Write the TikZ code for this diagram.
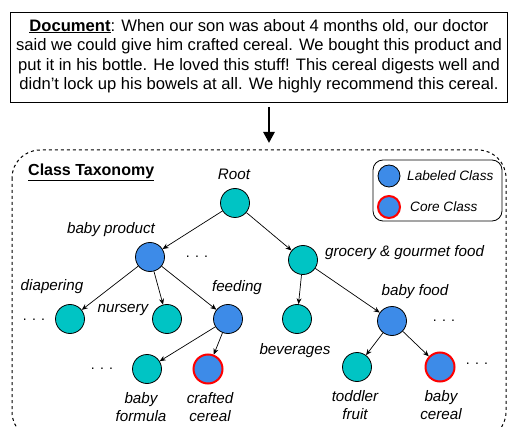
\documentclass[tikz,border=0pt]{standalone}
\usepackage{fontspec}
\setmainfont{Liberation Sans}
\usetikzlibrary{arrows.meta}
\definecolor{tealc}{RGB}{0,196,196}
\definecolor{bluec}{RGB}{61,139,232}
\begin{document}
\begin{tikzpicture}[x=1pt,y=-1pt,
  cls/.style={circle,draw=black,line width=0.8pt,minimum size=29pt,inner sep=0pt},
  tc/.style={cls,fill=tealc},
  bc/.style={cls,fill=bluec},
  cc/.style={cls,fill=bluec,draw=red,line width=2pt},
  lab/.style={font=\fontsize{15.2}{18}\selectfont\itshape,inner sep=0pt,align=center},
  leglab/.style={font=\fontsize{13.6}{16}\selectfont\itshape,inner sep=0pt},
  dots/.style={font=\fontsize{14}{16}\selectfont,inner sep=0pt},
  edge/.style={-{Stealth[length=6pt,width=5pt]},line width=0.7pt}]
\useasboundingbox (0,0) rectangle (508,427);
% document box
\draw[line width=0.9pt] (10,12) rectangle (507,102);
\node[inner sep=0pt,align=center,font=\fontsize{16.6}{19.5}\selectfont] (doc) at (259,56)
 {\underline{\textbf{Document}}: When our son was about 4 months old, our doctor\\
 said we could give him crafted cereal. We bought this product and\\
 put it in his bottle. He loved this stuff! This cereal digests well and\\
 didn't lock up his bowels at all. We highly recommend this cereal.};
\coordinate (a1) at (269,107);
\coordinate (a2) at (269,143);
\draw[-{Triangle[length=11pt,width=11pt]},line width=2.6pt] (a1) -- (a2);
% taxonomy frame
\draw[dashed,line width=1pt,rounded corners=28pt] (12,150) rectangle (506,440);
\node[anchor=west,inner sep=0pt,font=\fontsize{16}{18}\selectfont\bfseries] (title) at (28,172) {\underline{Class Taxonomy}};
% legend
\draw[line width=0.8pt,rounded corners=10pt] (373,160) rectangle (502,221);
\node[bc,minimum size=22pt] (lg1) at (389,176) {};
\node[cc,minimum size=22pt] (lg2) at (389,207) {};
\node[leglab,anchor=west] (lt1) at (407,176) {Labeled Class};
\node[leglab,anchor=west] (lt2) at (410,207) {Core Class};
% nodes
\node[tc] (root) at (235,203) {};
\node[bc] (bp) at (150,257) {};
\node[tc] (gg) at (303,260) {};
\node[tc] (dia) at (70,319) {};
\node[tc] (nur) at (167,319) {};
\node[bc] (feed) at (228,319) {};
\node[tc] (bfor) at (147,369) {};
\node[cc] (cc) at (208,369) {};
\node[tc] (bev) at (297,319) {};
\node[bc] (bfood) at (392,321) {};
\node[tc] (tf) at (357,367) {};
\node[cc] (bcer) at (440,367) {};
% labels
\node[lab] (lroot) at (234,174) {Root};
\node[lab] (lbp) at (111,230) {baby product};
\node[lab,anchor=west] (lgg) at (325,253) {grocery \& gourmet food};
\node[lab] (ldia) at (52,287) {diapering};
\node[lab] (lnur) at (123,310) {nursery};
\node[lab] (lfeed) at (237,288) {feeding};
\node[lab] (lbfor) at (141,407) {baby\\formula};
\node[lab] (lcc) at (210,407) {crafted\\cereal};
\node[lab] (lbev) at (295,351) {beverages};
\node[lab] (lbfood) at (415,292) {baby food};
\node[lab] (ltf) at (355,405) {toddler\\fruit};
\node[lab] (lbcer) at (441,405) {baby\\cereal};
% dots
\node[dots] (d1) at (197,257) {. . .};
\node[dots] (d2) at (34,320) {. . .};
\node[dots] (d3) at (102,369) {. . .};
\node[dots] (d4) at (444,321) {. . .};
\node[dots] (d5) at (477,364) {. . .};
% edges
\draw[edge] (root) -- (bp);
\draw[edge] (root) -- (gg);
\draw[edge] (bp) -- (dia);
\draw[edge] (bp) -- (nur);
\draw[edge] (bp) -- (feed);
\draw[edge] (feed) -- (bfor);
\draw[edge] (feed) -- (cc);
\draw[edge] (gg) -- (bev);
\draw[edge] (gg) -- (bfood);
\draw[edge] (bfood) -- (tf);
\draw[edge] (bfood) -- (bcer);
\end{tikzpicture}
\end{document}
